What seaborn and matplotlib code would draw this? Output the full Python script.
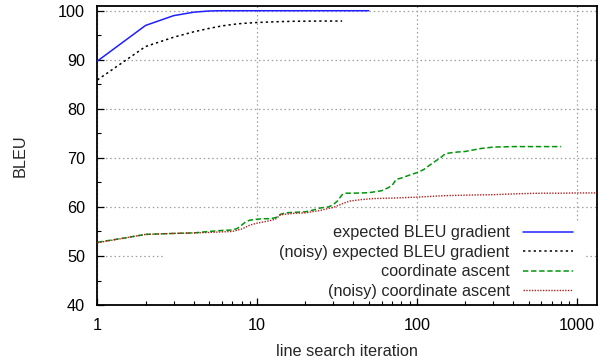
import numpy as np
import pandas as pd
import matplotlib
matplotlib.use("Agg")
import matplotlib.pyplot as plt
from matplotlib.patches import Rectangle
from matplotlib.ticker import LogLocator, MultipleLocator, NullFormatter
import seaborn as sns

# данные
grad_x = [1, 2, 3, 4, 5, 6, 8, 10, 15, 20, 30, 40, 50]
grad_y = [89.75, 97.0, 99.0, 99.7, 99.95, 100, 100, 100, 100, 100, 100, 100, 100]

noisy_grad_x = [1, 2, 3, 4, 5, 6, 7, 8, 10, 13, 17, 25, 34]
noisy_grad_y = [85.9, 92.7, 94.6, 95.7, 96.4, 96.9, 97.2, 97.4, 97.6, 97.75, 97.85, 97.9, 97.9]

coord_x = [1, 1.5, 2, 3, 4, 5, 6, 7, 7.5, 8, 8.5, 9, 10, 11, 12, 13, 14, 15, 17, 20,
           22, 25, 28, 30, 32, 34, 36, 40, 50, 60, 65, 70, 74, 80, 90, 100, 110, 120,
           130, 140, 150, 160, 180, 200, 250, 300, 400, 500, 600, 800]
coord_y = [52.8, 53.7, 54.4, 54.6, 54.7, 55.0, 55.2, 55.3, 55.6, 56.3, 57.0, 57.3, 57.5,
           57.6, 57.6, 57.8, 58.5, 58.8, 58.9, 59.0, 59.3, 59.8, 60.0, 60.5, 61.3, 62.5,
           62.8, 62.8, 62.9, 63.3, 63.8, 64.4, 65.6, 65.9, 66.5, 67.0, 67.6, 68.5, 69.3,
           70.0, 70.8, 71.0, 71.2, 71.3, 71.9, 72.2, 72.3, 72.3, 72.3, 72.3]

noisy_coord_x = [1, 2, 3, 5, 7, 8, 9, 10, 12, 13, 14, 17, 20, 25, 28, 30, 35, 38, 45,
                 53, 70, 100, 150, 200, 300, 437, 600, 800, 1000, 1400]
noisy_coord_y = [52.7, 54.4, 54.6, 54.8, 55.0, 55.5, 56.3, 56.7, 57.2, 57.5, 58.4, 58.7,
                 58.8, 59.3, 59.7, 59.9, 60.8, 61.2, 61.5, 61.7, 61.8, 62.0, 62.3, 62.4,
                 62.5, 62.7, 62.8, 62.8, 62.85, 62.85]

labels = ["expected BLEU gradient", "(noisy) expected BLEU gradient",
          "coordinate ascent", "(noisy) coordinate ascent"]

sns.set_style("ticks")
plt.rcParams["font.family"] = ["Liberation Sans", "DejaVu Sans"]
plt.rcParams["font.size"] = 11.7

fig = plt.figure(figsize=(6.09, 3.64), dpi=100)
ax = fig.add_axes([0.160, 0.162, 0.820, 0.822])
ax.set_axisbelow(True)

series = [
    (grad_x, grad_y, "#1f1fff", "-", 1.1),
    (noisy_grad_x, noisy_grad_y, "black", (0, (1.5, 2.0)), 1.1),
    (coord_x, coord_y, "#00960a", (0, (3.5, 1.8)), 1.1),
    (noisy_coord_x, noisy_coord_y, "#b02020", (0, (1.0, 1.0)), 1.0),
]
for (xs, ys, col, ls, lw), lab in zip(series, labels):
    df = pd.DataFrame({"x": xs, "y": ys})
    sns.lineplot(data=df, x="x", y="y", ax=ax, color=col, linestyle=ls,
                 linewidth=lw, label=lab, estimator=None, zorder=3)

ax.set_xscale("log")
ax.set_xlim(1, 1336)
ax.set_ylim(40, 101)
ax.xaxis.set_minor_locator(LogLocator(base=10, subs=np.arange(2, 10), numticks=20))
ax.xaxis.set_minor_formatter(NullFormatter())
ax.set_xticks([1, 10, 100, 1000])
ax.set_xticklabels(["1", "10", "100", "1000"])
ax.yaxis.set_major_locator(MultipleLocator(10))
ax.yaxis.set_minor_locator(MultipleLocator(5))

ax.grid(True, which="major", color="#a0a0a0", linestyle=(0, (1.2, 2.2)), linewidth=0.9)
ax.tick_params(which="both", direction="in", top=False, right=False, colors="black",
               labelsize=11.7)
ax.tick_params(which="major", length=5, width=0.9, pad=9)
ax.tick_params(which="minor", length=3, width=0.8)
for sp in ax.spines.values():
    sp.set_linewidth(1.3)
    sp.set_color("black")
    sp.set_visible(True)

ax.set_xlabel("line search iteration", labelpad=8)
ax.set_ylabel("BLEU", labelpad=22)

# белая подложка под легендой, как в gnuplot
ax.add_patch(Rectangle((0.135, 0.023), 0.84, 0.255, transform=ax.transAxes,
                       facecolor="white", edgecolor="none", zorder=1))

leg = ax.legend(loc="lower right", bbox_to_anchor=(0.9525, 0.02), frameon=False,
                markerfirst=False, handlelength=3.1, handletextpad=0.8,
                labelspacing=0.28, borderpad=0, borderaxespad=0, fontsize=11.7)

fig.savefig("out.png", dpi=100)
